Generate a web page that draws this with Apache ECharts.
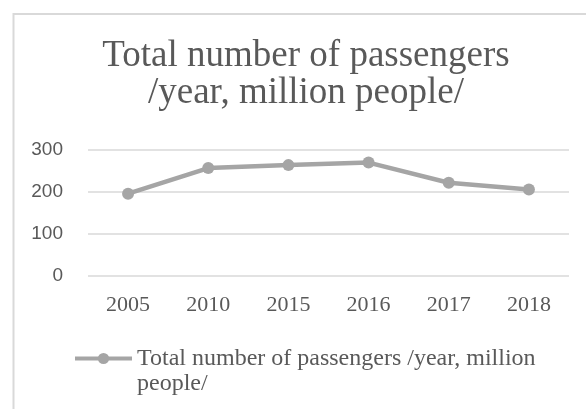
<!DOCTYPE html>
<html>
<head>
<meta charset="utf-8">
<script src="https://cdn.jsdelivr.net/npm/echarts@6/dist/echarts.min.js"></script>
<style>html,body{margin:0;padding:0;background:#fff;}#c{width:586px;height:409px;}</style>
</head>
<body>
<div id="c"></div>
<script>
const categories = ['2005', '2010', '2015', '2016', '2017', '2018'];
const passengers = [196, 257, 264, 270, 222, 206];
const yTicks = [0, 100, 200, 300];
const seriesName = 'Total number of passengers /year, million people/';
const legendLines = ['Total number of passengers /year, million', 'people/'];
const titleText = 'Total number of passengers\n/year, million people/';

const chart = echarts.init(document.getElementById('c'));
chart.setOption({
  backgroundColor: '#fff',
  animation: false,
  graphic: [{
    type: 'rect',
    shape: { x: 13.5, y: 14, width: 600, height: 420 },
    style: { fill: 'none', stroke: '#d9d9d9', lineWidth: 2 },
    silent: true
  }],
  title: {
    text: titleText,
    left: 301,
    textAlign: 'center',
    top: 33,
    textStyle: { fontFamily: 'Liberation Serif', fontSize: 37, fontWeight: 'normal', color: '#595959', lineHeight: 37 }
  },
  grid: { left: 88, right: 17, top: 150, bottom: 133, containLabel: false },
  xAxis: {
    type: 'category',
    data: categories,
    boundaryGap: true,
    axisLine: { show: false },
    axisTick: { show: false },
    axisLabel: { fontFamily: 'Liberation Serif', fontSize: 22, color: '#595959', margin: 18 }
  },
  yAxis: {
    type: 'value',
    min: yTicks[0],
    max: yTicks[yTicks.length - 1],
    interval: 100,
    axisLine: { show: false },
    axisTick: { show: false },
    splitLine: { lineStyle: { color: '#d9d9d9', width: 1.5 } },
    axisLabel: { fontFamily: 'Liberation Sans', fontSize: 19, color: '#595959', margin: 25 }
  },
  legend: {
    left: 68,
    top: 316,
    itemWidth: 57,
    itemHeight: 14,
    itemGap: 2,
    data: [seriesName],
    lineStyle: { width: 4 },
    formatter: function () { return '\n' + legendLines.join('\n'); },
    textStyle: { fontFamily: 'Liberation Serif', fontSize: 24, color: '#595959', lineHeight: 25 }
  },
  series: [{
    name: seriesName,
    type: 'line',
    data: passengers,
    symbol: 'circle',
    symbolSize: 12,
    lineStyle: { color: '#a5a5a5', width: 4.5 },
    itemStyle: { color: '#a5a5a5' }
  }]
});
</script>
</body>
</html>
